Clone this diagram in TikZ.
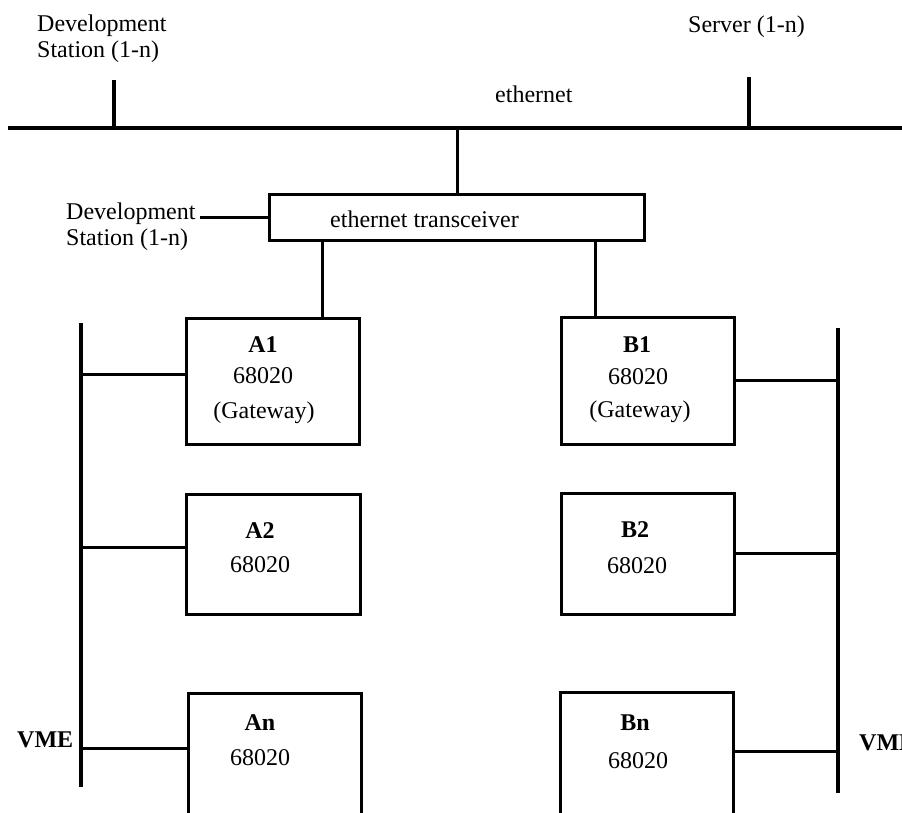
\documentclass[tikz,border=0pt]{standalone}
\usepackage{fontspec}
\setmainfont{Liberation Serif}
\begin{document}
\begin{tikzpicture}[x=1pt,y=-1pt,
  bus/.style={line width=3.6pt},
  wire/.style={line width=3pt},
  box/.style={draw,line width=3.4pt,inner sep=0pt,anchor=north west},
  txt/.style={inner sep=0pt,anchor=base,font=\fontsize{24}{26}\selectfont},
  btxt/.style={txt,font=\fontsize{24}{26}\selectfont\bfseries}]
\useasboundingbox (0,0) rectangle (902,812);
\fill[white] (0,0) rectangle (902,812);
\clip (0,0) rectangle (902,812);

% ethernet backbone
\coordinate (eL) at (8,128);
\coordinate (eR) at (906,128);
\draw[bus] (eL) -- (eR);
\coordinate (d1) at (114,80);
\coordinate (s1) at (749,77);
\draw[bus] (d1) -- (d1 |- eL);
\draw[bus] (s1) -- (s1 |- eL);

\node[txt,anchor=north west,align=left] (dev1) at (37,15) {Development\\Station (1-n)};
\node[txt,anchor=base west] (srv) at (688,32) {Server (1-n)};
\node[txt,anchor=base west] (eth) at (495,102) {ethernet};

% transceiver
\node[box,minimum width=375pt,minimum height=46pt] (T) at (268,193) {};
\node[txt,anchor=base west] (Tt) at (330,227) {ethernet transceiver};
\draw[wire] (T.north) -- (T.north |- eL);
\node[txt,anchor=north west,align=left] (dev2) at (66,203) {Development\\Station (1-n)};
\coordinate (dv2) at (200,217);
\draw[wire] (dv2) -- (dv2 -| T.west);

% processor boards
\node[box,minimum width=173pt,minimum height=126pt] (A1) at (185,317) {};
\node[box,minimum width=174pt,minimum height=120pt] (A2) at (185,493) {};
\node[box,minimum width=173pt,minimum height=200pt] (An) at (187,692) {};
\node[box,minimum width=173pt,minimum height=127pt] (B1) at (560,316) {};
\node[box,minimum width=173pt,minimum height=121pt] (B2) at (560,492) {};
\node[box,minimum width=173pt,minimum height=200pt] (Bn) at (559,691) {};

\node[btxt] (A1a) at (263,352) {A1};
\node[txt]  (A1b) at (263,383) {68020};
\node[txt]  (A1c) at (264,418) {(Gateway)};
\node[btxt] (A2a) at (260,538) {A2};
\node[txt]  (A2b) at (260,572) {68020};
\node[btxt] (Ana) at (260,730) {An};
\node[txt]  (Anb) at (260,765) {68020};
\node[btxt] (B1a) at (637,352) {B1};
\node[txt]  (B1b) at (638,384) {68020};
\node[txt]  (B1c) at (640,417) {(Gateway)};
\node[btxt] (B2a) at (635,537) {B2};
\node[txt]  (B2b) at (637,573) {68020};
\node[btxt] (Bna) at (635,730) {Bn};
\node[txt]  (Bnb) at (638,768) {68020};

% transceiver drops
\coordinate (ta) at (322,0);
\coordinate (tb) at (595,0);
\draw[wire] (T.south -| ta) -- (A1.north -| ta);
\draw[wire] (T.south -| tb) -- (B1.north -| tb);

% VME buses
\coordinate (busLt) at (81,323);
\coordinate (busLb) at (81,787);
\coordinate (busRt) at (838,328);
\coordinate (busRb) at (838,793);
\draw[bus] (busLt) -- (busLb);
\draw[bus] (busRt) -- (busRb);
\node[btxt,anchor=base west] (vmeL) at (17,747) {VME};
\node[btxt,anchor=base west] (vmeR) at (859,750) {VME};

\coordinate (ca1) at (0,374);
\coordinate (ca2) at (0,547);
\coordinate (can) at (0,748);
\coordinate (cb1) at (0,380);
\coordinate (cb2) at (0,553);
\coordinate (cbn) at (0,751);
\draw[wire] (A1.west |- ca1) -- (busLt |- ca1);
\draw[wire] (A2.west |- ca2) -- (busLt |- ca2);
\draw[wire] (An.west |- can) -- (busLt |- can);
\draw[wire] (B1.east |- cb1) -- (busRt |- cb1);
\draw[wire] (B2.east |- cb2) -- (busRt |- cb2);
\draw[wire] (Bn.east |- cbn) -- (busRt |- cbn);
\end{tikzpicture}
\end{document}
